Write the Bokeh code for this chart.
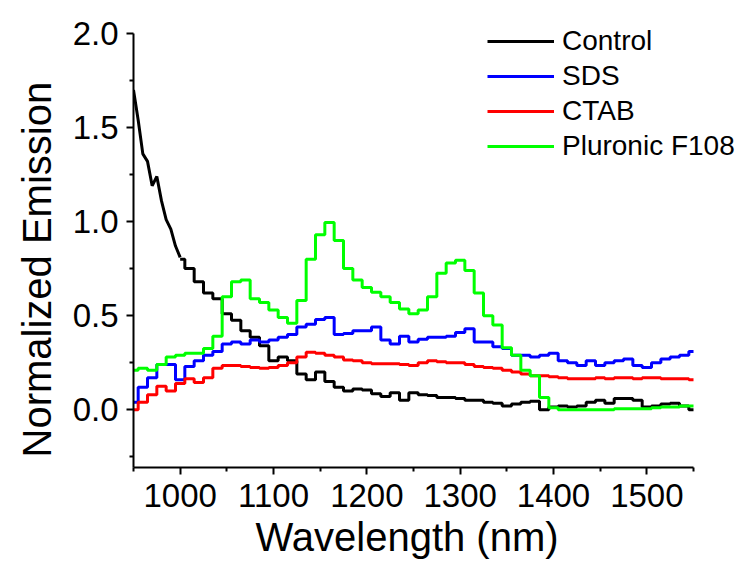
from bokeh.plotting import figure
from bokeh.models import Range1d, FixedTicker, PrintfTickFormatter, Legend, LegendItem, Title
from bokeh.embed import file_html
from bokeh.resources import INLINE

# ---- data ----
wavelength = list(range(950, 1551, 10))

control_fine_x = [950, 955, 960, 965, 970, 975, 980, 985, 990, 995, 1000]
control_fine = [1.70, 1.54, 1.36, 1.32, 1.19, 1.24, 1.11, 1.01, 0.96, 0.87, 0.81]

control_x = list(range(1000, 1551, 10))
control = [0.80, 0.75, 0.68, 0.62, 0.59, 0.51, 0.475, 0.42, 0.385, 0.34,
           0.26, 0.28, 0.26, 0.19, 0.16, 0.20, 0.15, 0.12, 0.10, 0.11,
           0.105, 0.085, 0.07, 0.09, 0.05, 0.09, 0.08, 0.075, 0.065, 0.065,
           0.06, 0.05, 0.05, 0.04, 0.035, 0.02, 0.03, 0.04, 0.045, 0.0,
           0.015, 0.02, 0.015, 0.02, 0.04, 0.05, 0.035, 0.06, 0.06, 0.05,
           0.015, 0.02, 0.03, 0.035, 0.02, 0.0]

sds = [0.04, 0.12, 0.17, 0.24, 0.24, 0.16, 0.23, 0.26, 0.29, 0.31,
       0.35, 0.36, 0.35, 0.37, 0.36, 0.37, 0.385, 0.40, 0.44, 0.455,
       0.48, 0.49, 0.40, 0.405, 0.42, 0.42, 0.44, 0.37, 0.35, 0.39,
       0.36, 0.375, 0.385, 0.385, 0.39, 0.41, 0.43, 0.36, 0.36, 0.335,
       0.325, 0.29, 0.29, 0.28, 0.29, 0.30, 0.26, 0.25, 0.235, 0.26,
       0.235, 0.25, 0.26, 0.27, 0.235, 0.225, 0.25, 0.27, 0.28, 0.29,
       0.31]

ctab = [0.0, 0.04, 0.08, 0.125, 0.10, 0.14, 0.165, 0.145, 0.17, 0.22,
        0.235, 0.235, 0.23, 0.225, 0.22, 0.225, 0.235, 0.25, 0.28, 0.305,
        0.30, 0.29, 0.28, 0.265, 0.26, 0.25, 0.245, 0.245, 0.245, 0.24,
        0.235, 0.25, 0.26, 0.255, 0.25, 0.25, 0.24, 0.23, 0.225, 0.22,
        0.21, 0.20, 0.19, 0.18, 0.18, 0.175, 0.17, 0.165, 0.165, 0.165,
        0.17, 0.165, 0.17, 0.17, 0.165, 0.17, 0.17, 0.165, 0.165, 0.165,
        0.16]

pluronic = [0.21, 0.22, 0.21, 0.24, 0.28, 0.29, 0.30, 0.30, 0.325, 0.39,
            0.60, 0.68, 0.69, 0.59, 0.57, 0.53, 0.49, 0.46, 0.58, 0.80,
            0.93, 0.995, 0.90, 0.75, 0.69, 0.65, 0.625, 0.60, 0.57, 0.535,
            0.51, 0.53, 0.60, 0.725, 0.78, 0.795, 0.74, 0.62, 0.50, 0.45,
            0.33, 0.29, 0.21, 0.18, 0.065, 0.01, 0.0, 0.0, 0.0, 0.0,
            0.0, 0.0, 0.005, 0.005, 0.005, 0.005, 0.01, 0.015, 0.015, 0.02,
            0.02]

series_names = ["Control", "SDS", "CTAB", "Pluronic F108"]
series_colors = ["#000000", "#0000FF", "#FF0000", "#00FF00"]

x_major = [1000, 1100, 1200, 1300, 1400, 1500]
x_minor = [950, 1050, 1150, 1250, 1350, 1450, 1550]
y_major = [0.0, 0.5, 1.0, 1.5, 2.0]
y_minor = [-0.25, 0.25, 0.75, 1.25, 1.75]

FONT = "Liberation Sans"

# frame extends to the right/top edges so the legend is not clipped;
# the axis lines are bounded to the data extent
p = figure(width=745, height=565, output_backend="svg", toolbar_location=None,
           x_range=Range1d(950, 1605.7), y_range=Range1d(-0.307, 2.175),
           min_border_left=133, min_border_right=0, min_border_top=0,
           min_border_bottom=98)
p.outline_line_color = None
p.xgrid.visible = False
p.ygrid.visible = False
p.background_fill_color = "white"
p.border_fill_color = "white"

LW = 3
r_c1 = p.line(control_fine_x, control_fine, line_color=series_colors[0], line_width=LW)
r_c2 = p.step(control_x, control, mode="center", line_color=series_colors[0], line_width=LW)
r_s = p.step(wavelength, sds, mode="center", line_color=series_colors[1], line_width=LW)
r_t = p.step(wavelength, ctab, mode="center", line_color=series_colors[2], line_width=LW)
r_p = p.step(wavelength, pluronic, mode="center", line_color=series_colors[3], line_width=LW)

for ax in (p.xaxis[0], p.yaxis[0]):
    ax.axis_line_width = 2
    ax.axis_line_color = "black"
    ax.major_tick_line_width = 2
    ax.minor_tick_line_width = 2
    ax.major_tick_in = 0
    ax.minor_tick_in = 0
    ax.major_tick_out = 7
    ax.minor_tick_out = 4
    ax.major_label_text_font = FONT
    ax.major_label_text_font_size = "33px"
    ax.major_label_text_color = "black"

p.xaxis[0].bounds = (950, 1550)
p.yaxis[0].bounds = (-0.307, 2.0)
p.xaxis[0].ticker = FixedTicker(ticks=x_major, minor_ticks=x_minor)
p.yaxis[0].ticker = FixedTicker(ticks=y_major, minor_ticks=y_minor)
p.yaxis[0].formatter = PrintfTickFormatter(format="%.1f")
p.xaxis[0].major_label_standoff = 9
p.yaxis[0].major_label_standoff = 8

# axis titles as side-panel titles so they can be placed under/beside the data extent
x_title = Title(text="Wavelength (nm)", align="left", offset=122, standoff=6,
                text_font=FONT, text_font_size="40px", text_font_style="normal",
                text_color="black")
p.add_layout(x_title, "below")

y_title = Title(text="Normalized Emission", align="left", offset=10, standoff=21,
                text_font=FONT, text_font_size="40px", text_font_style="normal",
                text_color="black")
p.add_layout(y_title, "left")

legend = Legend(items=[
    LegendItem(label=series_names[0], renderers=[r_c2]),
    LegendItem(label=series_names[1], renderers=[r_s]),
    LegendItem(label=series_names[2], renderers=[r_t]),
    LegendItem(label=series_names[3], renderers=[r_p]),
], location=(354, 305))
legend.border_line_color = None
legend.background_fill_alpha = 0
legend.padding = 0
legend.margin = 0
legend.spacing = 3
legend.label_height = 30
legend.glyph_height = 30
legend.glyph_width = 67
legend.label_standoff = 8
legend.label_text_font = FONT
legend.label_text_font_size = "28px"
legend.label_text_color = "black"
p.add_layout(legend)

open("out.html", "w").write(file_html(p, INLINE))
